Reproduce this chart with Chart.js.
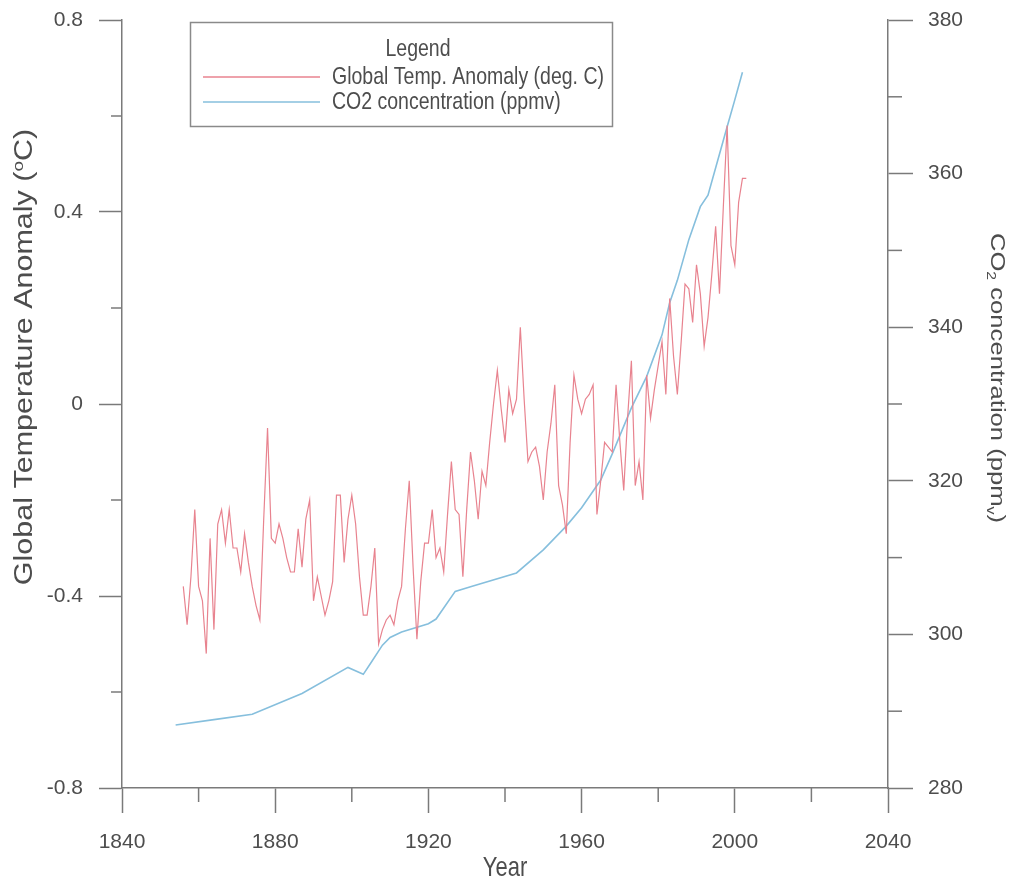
<!DOCTYPE html>
<html>
<head>
<meta charset="utf-8">
<title>Global temperature anomaly and CO2 concentration</title>
<script src="https://cdn.jsdelivr.net/npm/chart.js@4.4.1/dist/chart.umd.min.js"></script>
<style>
  html, body { margin: 0; padding: 0; background: #fff; }
  #wrap { position: relative; width: 1021px; height: 882px; }
</style>
</head>
<body>
<div id="wrap"><canvas id="myChart"></canvas></div>
<script>
//Temperature anomaly (deg. C), one value a year starting 1856
var tempStart = 1856;
var tempAnomaly = [
  -0.38, -0.46, -0.36, -0.22, -0.38, -0.41, -0.52, -0.28, -0.47, -0.25, // 1856-1865
  -0.22, -0.29, -0.22, -0.30, -0.30, -0.35, -0.27, -0.33, -0.38, -0.42, // 1866-1875
  -0.45, -0.24, -0.05, -0.28, -0.29, -0.25, -0.28, -0.32, -0.35, -0.35, // 1876-1885
  -0.26, -0.34, -0.24, -0.20, -0.41, -0.36, -0.40, -0.44, -0.41, -0.37, // 1886-1895
  -0.19, -0.19, -0.33, -0.24, -0.19, -0.25, -0.36, -0.44, -0.44, -0.38, // 1896-1905
  -0.30, -0.50, -0.47, -0.45, -0.44, -0.46, -0.41, -0.38, -0.26, -0.16, // 1906-1915
  -0.34, -0.49, -0.37, -0.29, -0.29, -0.22, -0.32, -0.30, -0.35, -0.23, // 1916-1925
  -0.12, -0.22, -0.23, -0.36, -0.22, -0.10, -0.16, -0.24, -0.14, -0.17, // 1926-1935
  -0.08,  0.00,  0.07, -0.01, -0.08,  0.03, -0.02,  0.01,  0.16,  0.01, // 1936-1945
  -0.12, -0.10, -0.09, -0.13, -0.20, -0.10, -0.04,  0.04, -0.17, -0.21, // 1946-1955
  -0.27, -0.08,  0.06,  0.01, -0.02,  0.01,  0.02,  0.04, -0.23, -0.16, // 1956-1965
  -0.08, -0.09, -0.10,  0.04, -0.08, -0.18, -0.03,  0.09, -0.17, -0.12, // 1966-1975
  -0.20,  0.06, -0.03,  0.03,  0.08,  0.13,  0.02,  0.22,  0.10,  0.02, // 1976-1985
   0.13,  0.25,  0.24,  0.17,  0.29,  0.23,  0.12,  0.18,  0.27,  0.37, // 1986-1995
   0.23,  0.41,  0.58,  0.33,  0.29,  0.42,  0.47,  0.47                 // 1996-2003
];

//CO2 concentration (ppmv) where the curve bends
var co2Years  = [1854, 1864, 1874, 1887, 1899, 1903, 1905, 1908, 1910, 1913, 1920, 1922, 1927, 1931, 1943, 1950,
                 1956, 1960, 1965, 1968, 1973, 1977, 1981, 1983, 1985, 1988, 1991, 1993, 1998, 2000, 2002];
var co2Values = [288.2, 288.9, 289.6, 292.3, 295.7, 294.8, 296.3, 298.6, 299.6, 300.3, 301.4, 302.0, 305.6, 306.2, 308.0, 311.0,
                 314.1, 316.5, 320.1, 323.5, 329.5, 333.6, 339.0, 343.2, 346.1, 351.4, 355.7, 357.2, 366.1, 369.6, 373.2];

//Axis ticks (all marks) and the ones that get a label
var yearTicks = [1840, 1860, 1880, 1900, 1920, 1940, 1960, 1980, 2000, 2020, 2040];
var yearLabelled = [1840, 1880, 1920, 1960, 2000, 2040];
var tempTicks = [-0.8, -0.6, -0.4, -0.2, 0, 0.2, 0.4, 0.6, 0.8];
var tempLabelled = [-0.8, -0.4, 0, 0.4, 0.8];
var co2Ticks = [280, 290, 300, 310, 320, 330, 340, 350, 360, 370, 380];
var co2Labelled = [280, 300, 320, 340, 360, 380];

var axisColor = '#7a7a7a';
var textColor = '#4d4d4d';
var fontFamily = '"Liberation Sans", Arial, sans-serif';
var stretch = 1.22; // the original text is a bit taller than wide

function tickObjects(values, labelled) {
    return values.map(function (v) {
        return { value: v, major: labelled.indexOf(v) !== -1 };
    });
}
function tickLabel(value, index, ticks) {
    return ticks[index].major ? String(value) : '';
}
function majorOnly(ctx) {
    return ctx.tick && ctx.tick.major ? axisColor : 'rgba(0,0,0,0)';
}
//fixed box sizes so the plot area sits where the original has it
function fixVertical(width) {
    return function (s) {
        s.width = width;
        s.paddingTop = 10;
        s.paddingBottom = 10;
    };
}

//Draw a text made of runs (normal / sub / sup), centred on cx, cy
function drawRuns(ctx, runs, cx, cy, angle, size) {
    ctx.save();
    ctx.translate(cx, cy);
    ctx.rotate(angle);
    if (angle === 0) ctx.scale(1, stretch); else ctx.scale(stretch, 1);
    var total = 0;
    runs.forEach(function (r) {
        r.size = r.sub || r.sup ? size * 0.62 : size;
        ctx.font = r.size + 'px ' + fontFamily;
        r.w = ctx.measureText(r.t).width;
        total += r.w;
    });
    var x = -total / 2;
    ctx.fillStyle = textColor;
    ctx.textAlign = 'left';
    ctx.textBaseline = 'alphabetic';
    runs.forEach(function (r) {
        ctx.font = r.size + 'px ' + fontFamily;
        var dy = size * 0.36;
        if (r.sub) dy += size * 0.2;
        if (r.sup) dy -= size * 0.38;
        ctx.fillText(r.t, x, dy);
        x += r.w;
    });
    ctx.restore();
}

//Minor tick marks, axis titles and the boxed legend
var decorations = {
    id: 'decorations',
    afterDraw: function (chart) {
        var ctx = chart.ctx;
        var area = chart.chartArea;
        ctx.save();
        ctx.strokeStyle = axisColor;
        ctx.lineWidth = 1.5;
        chart.scales.x.ticks.forEach(function (t) {
            if (t.major) return;
            var px = chart.scales.x.getPixelForValue(t.value);
            ctx.beginPath(); ctx.moveTo(px, area.bottom); ctx.lineTo(px, area.bottom + 14); ctx.stroke();
        });
        chart.scales.yT.ticks.forEach(function (t) {
            if (t.major) return;
            var py = chart.scales.yT.getPixelForValue(t.value);
            ctx.beginPath(); ctx.moveTo(area.left, py); ctx.lineTo(area.left - 11, py); ctx.stroke();
        });
        chart.scales.yC.ticks.forEach(function (t) {
            if (t.major) return;
            var py = chart.scales.yC.getPixelForValue(t.value);
            ctx.beginPath(); ctx.moveTo(area.right, py); ctx.lineTo(area.right + 14, py); ctx.stroke();
        });
        ctx.restore();

        // axis titles
        drawRuns(ctx, [{ t: 'Year' }], 505, 866, 0, 22);
        drawRuns(ctx, [{ t: 'Global Temperature Anomaly (' }, { t: 'o', sup: true }, { t: 'C)' }], 23, 357, -Math.PI / 2, 25);
        drawRuns(ctx, [{ t: 'CO' }, { t: '2', sub: true }, { t: ' concentration (ppm' }, { t: 'v', sub: true }, { t: ')' }],
            999, 378, Math.PI / 2, 21);

        // legend box
        ctx.save();
        ctx.strokeStyle = '#8a8a8a';
        ctx.lineWidth = 1.5;
        ctx.strokeRect(190.5, 22.5, 422, 104);
        ctx.restore();
        drawRuns(ctx, [{ t: 'Legend' }], 418, 47, 0, 19.5);
        var rows = [77, 102];
        chart.data.datasets.forEach(function (ds, i) {
            ctx.save();
            ctx.strokeStyle = ds.borderColor;
            ctx.lineWidth = 1.5;
            ctx.beginPath(); ctx.moveTo(203, rows[i]); ctx.lineTo(320, rows[i]); ctx.stroke();
            ctx.restore();
            ctx.save();
            ctx.translate(332, rows[i]);
            ctx.scale(1, stretch);
            ctx.font = '19.5px ' + fontFamily;
            ctx.fillStyle = textColor;
            ctx.textBaseline = 'middle';
            ctx.fillText(ds.label, 0, 0);
            ctx.restore();
        });
    }
};

var tempPoints = tempAnomaly.map(function (v, i) { return { x: tempStart + i, y: v }; });
var co2Points = co2Years.map(function (yr, i) { return { x: yr, y: co2Values[i] }; });

var tickFont = { family: fontFamily, size: 21 };

var ctx = document.getElementById('myChart');
var myChart = new Chart(ctx, {
    type: 'line',
    data: {
        datasets: [{
            label: 'Global Temp. Anomaly (deg. C)',
            data: tempPoints,
            yAxisID: 'yT',
            borderColor: '#e8838f',
            borderWidth: 1.2,
            pointRadius: 0,
            tension: 0
        }, {
            label: 'CO2 concentration (ppmv)',
            data: co2Points,
            yAxisID: 'yC',
            borderColor: '#86bfdd',
            borderWidth: 1.6,
            pointRadius: 0,
            tension: 0
        }]
    },
    options: {
        responsive: true,
        maintainAspectRatio: false,
        animation: false,
        layout: { padding: { top: 20, left: 0, right: 0, bottom: 0 } },
        plugins: {
            legend: { display: false },
            tooltip: { enabled: false }
        },
        scales: {
            x: {
                type: 'linear',
                min: 1840,
                max: 2040,
                afterBuildTicks: function (s) { s.ticks = tickObjects(yearTicks, yearLabelled); },
                afterFit: function (s) { s.height = 94; },
                ticks: { callback: tickLabel, font: tickFont, color: textColor, padding: 17, maxRotation: 0, autoSkip: false },
                grid: { drawOnChartArea: false, tickLength: 25, tickColor: majorOnly, tickWidth: 1.5 },
                border: { display: true, color: axisColor, width: 1.5 }
            },
            yT: {
                type: 'linear',
                position: 'left',
                min: -0.8,
                max: 0.8,
                afterBuildTicks: function (s) { s.ticks = tickObjects(tempTicks, tempLabelled); },
                afterFit: fixVertical(122),
                ticks: { callback: tickLabel, font: tickFont, color: textColor, padding: 16, autoSkip: false },
                grid: { drawOnChartArea: false, tickLength: 23, tickColor: majorOnly, tickWidth: 1.5 },
                border: { display: true, color: axisColor, width: 1.5 }
            },
            yC: {
                type: 'linear',
                position: 'right',
                min: 280,
                max: 380,
                afterBuildTicks: function (s) { s.ticks = tickObjects(co2Ticks, co2Labelled); },
                afterFit: fixVertical(133),
                ticks: { callback: tickLabel, font: tickFont, color: textColor, padding: 15, autoSkip: false },
                grid: { drawOnChartArea: false, tickLength: 25, tickColor: majorOnly, tickWidth: 1.5 },
                border: { display: true, color: axisColor, width: 1.5 }
            }
        }
    },
    plugins: [decorations]
});
</script>
</body>
</html>
